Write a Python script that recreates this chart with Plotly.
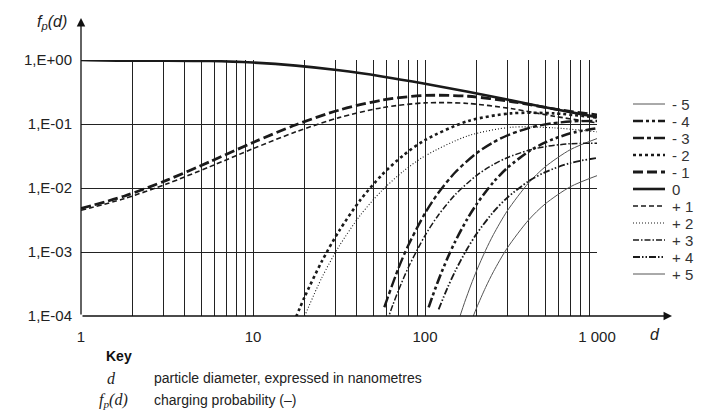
import plotly.graph_objects as go

# ---------------- data ----------------
charge_labels = ["- 5", "- 4", "- 3", "- 2", "- 1", "0", "+ 1", "+ 2", "+ 3", "+ 4", "+ 5"]

d_main = [1, 1.778, 3.162, 5.623, 10, 17.78, 31.62, 56.23, 100, 177.8, 316.2, 562.3, 1000]
f_0 = [0.999, 0.974, 0.977, 0.964, 0.912, 0.817, 0.690, 0.554, 0.426, 0.318, 0.234, 0.172, 0.128]
f_m1 = [0.00479, 0.00744, 0.01328, 0.02586, 0.0514, 0.0973, 0.1647, 0.2363, 0.2793, 0.2715, 0.2247, 0.1717, 0.1384]
f_p1 = [0.00448, 0.00680, 0.01162, 0.02158, 0.0411, 0.0755, 0.1257, 0.1799, 0.2138, 0.2096, 0.1743, 0.1323, 0.1039]

d_m2 = [17.78, 19.95, 25.12, 31.62, 42.17, 56.23, 74.99, 100, 177.8, 316.2, 562.3, 1000]
f_m2 = [9.6e-5, 1.98e-4, 7.14e-4, 2.12e-3, 6.54e-3, 1.608e-2, 3.26e-2, 5.61e-2, 0.1112, 0.1467, 0.1465, 0.126]

d_p2 = [19.95, 25.12, 31.62, 42.17, 56.23, 74.99, 100, 177.8, 316.2, 562.3, 1000]
f_p2 = [9.94e-5, 3.97e-4, 1.22e-3, 3.79e-3, 9.15e-3, 1.838e-2, 3.17e-2, 0.0654, 0.0889, 0.0870, 0.0754]

d_m3 = [58, 70, 80, 100, 120, 150, 200, 250, 300, 400, 500, 700, 1000]
f_m3 = [1.37e-4, 5.54e-4, 1.276e-3, 4.02e-3, 8.50e-3, 0.0176, 0.0352, 0.0519, 0.0661, 0.0865, 0.0988, 0.1096, 0.1112]

d_p3 = [60, 65, 70, 80, 100, 120, 150, 200, 250, 300, 400, 500, 700, 1000]
f_p3 = [8.09e-5, 1.484e-4, 2.488e-4, 5.727e-4, 1.806e-3, 3.817e-3, 7.897e-3, 0.0158, 0.0233, 0.0297, 0.0388, 0.0443, 0.0492, 0.0499]

d_m4 = [105, 110, 120, 135, 150, 175, 200, 250, 300, 400, 500, 700, 1000]
f_m4 = [1.36e-4, 1.955e-4, 3.69e-4, 7.98e-4, 1.469e-3, 3.19e-3, 5.65e-3, 0.01235, 0.0204, 0.0371, 0.0515, 0.0715, 0.0858]

d_p4 = [120, 135, 150, 175, 200, 250, 300, 400, 500, 700, 1000]
f_p4 = [1.27e-4, 2.74e-4, 5.05e-4, 1.096e-3, 1.94e-3, 4.24e-3, 7.02e-3, 0.01273, 0.01769, 0.02458, 0.02949]

d_m5 = [160, 170, 185, 200, 225, 250, 300, 400, 500, 700, 1000]
f_m5 = [1.007e-4, 1.635e-4, 3.05e-4, 5.18e-4, 1.062e-3, 1.875e-3, 4.34e-3, 0.01199, 0.02145, 0.03975, 0.0592]

d_p5 = [190, 200, 225, 250, 300, 400, 500, 700, 1000]
f_p5 = [9.68e-5, 1.363e-4, 2.79e-4, 4.93e-4, 1.142e-3, 3.155e-3, 5.643e-3, 0.01046, 0.01558]

x_tickvals = [1, 2, 3, 4, 5, 6, 7, 8, 9, 10, 20, 30, 40, 50, 60, 70, 80, 90,
              100, 200, 300, 400, 500, 600, 700, 800, 900, 1000]
x_ticktext = ["1", "", "", "", "", "", "", "", "", "10", "", "", "", "", "", "", "", "",
              "100", "", "", "", "", "", "", "", "", "1 000"]
y_tickvals = [1e-4, 1e-3, 1e-2, 1e-1, 1]
y_ticktext = ["1,E-04", "1,E-03", "1,E-02", "1,E-01", "1,E+00"]

# ---------------- styles ----------------
INK = "#1a1a1a"
GREY = "#555555"
series = [
    (d_m5, f_m5, dict(color=GREY, width=1, dash="solid")),
    (d_m4, f_m4, dict(color=INK, width=2.6, dash="10px,3px,3px,3px,3px,3px")),
    (d_m3, f_m3, dict(color=INK, width=2.4, dash="11px,3px,4px,3px")),
    (d_m2, f_m2, dict(color=INK, width=2.6, dash="3px,3px")),
    (d_main, f_m1, dict(color=INK, width=2.8, dash="10px,4px")),
    (d_main, f_0, dict(color=INK, width=2.6, dash="solid")),
    (d_main, f_p1, dict(color=INK, width=1.6, dash="5px,3px")),
    (d_p2, f_p2, dict(color=INK, width=1.1, dash="1px,2px")),
    (d_p3, f_p3, dict(color=INK, width=1.5, dash="6px,2px,1.5px,2px")),
    (d_p4, f_p4, dict(color=INK, width=1.8, dash="7px,2px,1.5px,2px,1.5px,2px")),
    (d_p5, f_p5, dict(color=GREY, width=1, dash="solid")),
]

fig = go.Figure()
for (xs, ys, ln), name in zip(series, charge_labels):
    fig.add_trace(go.Scatter(x=xs, y=ys, mode="lines", name=name, showlegend=False,
                             line=dict(shape="spline", smoothing=0.8, **ln)))

FONT = "Liberation Sans, Arial, sans-serif"
SERIF = "Liberation Serif, Times New Roman, serif"

fig.update_layout(
    width=709, height=412,
    margin=dict(l=81, r=112, t=60, b=96),
    paper_bgcolor="white", plot_bgcolor="white",
    font=dict(family=FONT, size=15, color="#222222"),
    showlegend=False,
    xaxis=dict(type="log", range=[0, 3], tickvals=x_tickvals, ticktext=x_ticktext,
               showgrid=True, gridcolor="#222222", gridwidth=1, ticks="",
               showline=False, zeroline=False, ticklabelstandoff=10,
               tickfont=dict(family=FONT, size=15, color="#222222")),
    yaxis=dict(type="log", range=[-4, 0], tickvals=y_tickvals, ticktext=y_ticktext,
               showgrid=True, gridcolor="#222222", gridwidth=1, ticks="",
               showline=False, zeroline=False, ticklabelstandoff=8,
               tickfont=dict(family=FONT, size=15, color="#222222")),
)

plot_w, plot_h = 516, 256


def px_x(px):
    return (px - 81) / plot_w


def px_y(py):
    return (316 - py) / plot_h


# axes with arrows
fig.add_annotation(xref="paper", yref="paper", x=0, y=px_y(18), text="",
                   showarrow=True, ax=0, ay=298, arrowhead=2, arrowsize=1.3,
                   arrowwidth=1.3, arrowcolor="#111111")
fig.add_annotation(xref="paper", yref="paper", x=px_x(672), y=0, text="",
                   showarrow=True, ax=-591, ay=0, arrowhead=2, arrowsize=1.3,
                   arrowwidth=1.3, arrowcolor="#111111")

# axis titles
fig.add_annotation(xref="paper", yref="paper", x=px_x(52), y=px_y(22),
                   xanchor="center", yanchor="middle",
                   text="<i>f</i><sub><i>p</i></sub><i>(d)</i>", showarrow=False,
                   font=dict(family=FONT, size=16, color="#222222"))
fig.add_annotation(xref="paper", yref="paper", x=px_x(655), y=px_y(334),
                   xanchor="center", yanchor="middle",
                   text="<i>d</i>", showarrow=False,
                   font=dict(family=FONT, size=16, color="#222222"))

# manual legend (line samples + labels)
for i, ((xs, ys, ln), name) in enumerate(zip(series, charge_labels)):
    yy = px_y(104 + i * 17)
    fig.add_shape(type="line", xref="paper", yref="paper",
                  x0=px_x(633), x1=px_x(665), y0=yy, y1=yy,
                  line=dict(color=ln["color"], width=ln["width"], dash=ln["dash"]))
    fig.add_annotation(xref="paper", yref="paper", x=px_x(670), y=yy,
                       xanchor="left", yanchor="middle", text=name, showarrow=False,
                       font=dict(family=FONT, size=15, color="#333333"))

# key block
key_items = [
    (px_x(104), px_y(356), "<b>Key</b>", FONT, 14, "#111111"),
    (px_x(105), px_y(378), "<i>d</i>", SERIF, 16, "#222222"),
    (px_x(152), px_y(378), "particle diameter, expressed in nanometres", FONT, 14, "#222222"),
    (px_x(97), px_y(400), "<i>f</i><sub><i>p</i></sub><i>(d)</i>", SERIF, 16, "#222222"),
    (px_x(152), px_y(400), "charging probability (–)", FONT, 14, "#222222"),
]
for kx, ky, txt, fam, sz, col in key_items:
    fig.add_annotation(xref="paper", yref="paper", x=kx, y=ky, xanchor="left", yanchor="middle",
                       text=txt, showarrow=False, font=dict(family=fam, size=sz, color=col))

fig.write_html("out.html")
